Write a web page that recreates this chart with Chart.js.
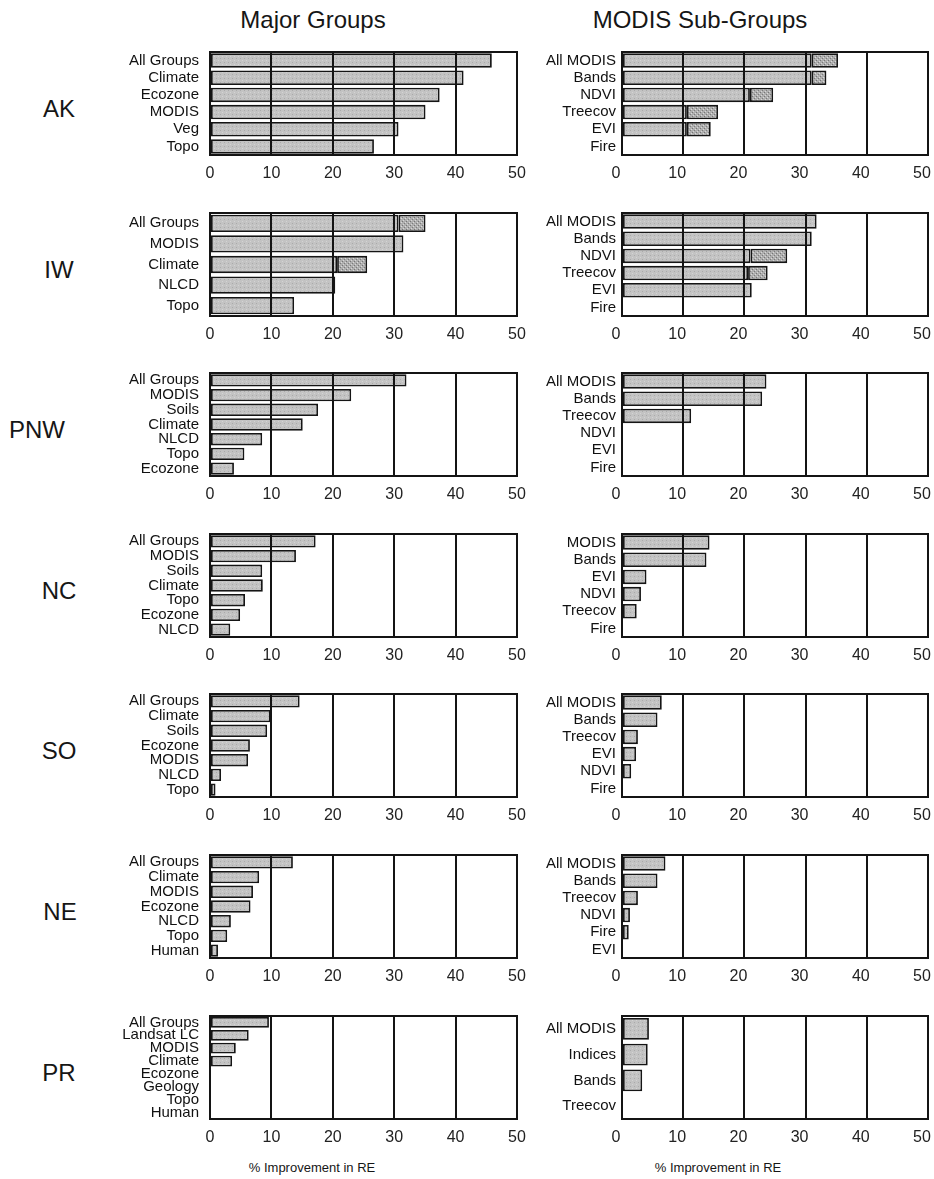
<!DOCTYPE html>
<html><head><meta charset="utf-8">
<script src="https://cdn.jsdelivr.net/npm/chart.js@4.4.0/dist/chart.umd.min.js"></script>
<style>
body{margin:0;background:#fff;width:934px;height:1179px;position:relative;overflow:hidden;font-family:"Liberation Sans",Arial,sans-serif;}
canvas{position:absolute;}
.txt{position:absolute;white-space:nowrap;color:#161616;transform:translate(-50%,-50%);}
</style></head><body>
<script>
// ---------- DATA ----------
const regions = ['AK','IW','PNW','NC','SO','NE','PR'];
const xTickValues = [0,10,20,30,40,50];
const colTitles = ['Major Groups','MODIS Sub-Groups'];
const axisTitle = '% Improvement in RE';

const akMajorLabels = ['All Groups','Climate','Ecozone','MODIS','Veg','Topo'];
const akMajorBase   = [45.9,41.3,37.4,35.1,30.7,26.7];
const akMajorExtra  = [0,0,0,0,0,0];
const akModisLabels = ['All MODIS','Bands','NDVI','Treecov','EVI','Fire'];
const akModisBase   = [31.0,31.0,20.9,10.6,10.6,0];
const akModisExtra  = [4.3,2.4,3.8,5.1,3.9,0];

const iwMajorLabels = ['All Groups','MODIS','Climate','NLCD','Topo'];
const iwMajorBase   = [30.7,31.5,20.7,20.4,13.7];
const iwMajorExtra  = [4.4,0,4.9,0,0];
const iwModisLabels = ['All MODIS','Bands','NDVI','Treecov','EVI','Fire'];
const iwModisBase   = [31.8,31.0,21.0,20.6,21.2,0];
const iwModisExtra  = [0,0,6.0,3.2,0,0];

const pnwMajorLabels = ['All Groups','MODIS','Soils','Climate','NLCD','Topo','Ecozone'];
const pnwMajorBase   = [32.0,23.0,17.6,15.1,8.5,5.6,3.9];
const pnwMajorExtra  = [0,0,0,0,0,0,0];
const pnwModisLabels = ['All MODIS','Bands','Treecov','NDVI','EVI','Fire'];
const pnwModisBase   = [23.6,22.9,11.3,0,0,0];
const pnwModisExtra  = [0,0,0,0,0,0];

const ncMajorLabels = ['All Groups','MODIS','Soils','Climate','Topo','Ecozone','NLCD'];
const ncMajorBase   = [17.2,14.0,8.5,8.6,5.7,4.9,3.3];
const ncMajorExtra  = [0,0,0,0,0,0,0];
const ncModisLabels = ['MODIS','Bands','EVI','NDVI','Treecov','Fire'];
const ncModisBase   = [14.3,13.8,4.0,3.1,2.4,0];
const ncModisExtra  = [0,0,0,0,0,0];

const soMajorLabels = ['All Groups','Climate','Soils','Ecozone','MODIS','NLCD','Topo'];
const soMajorBase   = [14.6,9.9,9.3,6.5,6.2,1.8,0.9];
const soMajorExtra  = [0,0,0,0,0,0,0];
const soModisLabels = ['All MODIS','Bands','Treecov','EVI','NDVI','Fire'];
const soModisBase   = [6.5,5.8,2.6,2.3,1.5,0];
const soModisExtra  = [0,0,0,0,0,0];

const neMajorLabels = ['All Groups','Climate','MODIS','Ecozone','NLCD','Topo','Human'];
const neMajorBase   = [13.5,8.0,7.0,6.6,3.4,2.8,1.3];
const neMajorExtra  = [0,0,0,0,0,0,0];
const neModisLabels = ['All MODIS','Bands','Treecov','NDVI','Fire','EVI'];
const neModisBase   = [7.1,5.8,2.6,1.3,1.1,0];
const neModisExtra  = [0,0,0,0,0,0];

const prMajorLabels = ['All Groups','Landsat LC','MODIS','Climate','Ecozone','Geology','Topo','Human'];
const prMajorBase   = [9.6,6.3,4.2,3.6,0,0,0,0];
const prMajorExtra  = [0,0,0,0,0,0,0,0];
const prModisLabels = ['All MODIS','Indices','Bands','Treecov'];
const prModisBase   = [4.4,4.2,3.3,0];
const prModisExtra  = [0,0,0,0];

const panels = [
  [[akMajorLabels,akMajorBase,akMajorExtra],[akModisLabels,akModisBase,akModisExtra]],
  [[iwMajorLabels,iwMajorBase,iwMajorExtra],[iwModisLabels,iwModisBase,iwModisExtra]],
  [[pnwMajorLabels,pnwMajorBase,pnwMajorExtra],[pnwModisLabels,pnwModisBase,pnwModisExtra]],
  [[ncMajorLabels,ncMajorBase,ncMajorExtra],[ncModisLabels,ncModisBase,ncModisExtra]],
  [[soMajorLabels,soMajorBase,soMajorExtra],[soModisLabels,soModisBase,soModisExtra]],
  [[neMajorLabels,neMajorBase,neMajorExtra],[neModisLabels,neModisBase,neModisExtra]],
  [[prMajorLabels,prMajorBase,prMajorExtra],[prModisLabels,prModisBase,prModisExtra]]
];

// ---------- LAYOUT / STYLE ----------
const FONT = '"Liberation Sans", Arial, Helvetica, sans-serif';
const ROW_TOP0 = 52, ROW_STEP = 160.6, FRAME_H = 103;
const COLS = [
  {frameL:210, frameR:517, yW:110, padR:14, labelPad:11, labelOffset:0},
  {frameL:622, frameR:928, yW:100, padR:6,  labelPad:6, labelOffset:-6}
];
const ROW_LABEL_X = [59, 59, 37, 59, 59, 60, 59];
const XAX_H = 32;

function pattern(bg, dots) {
  const c = document.createElement('canvas'); c.width = 4; c.height = 4;
  const g = c.getContext('2d');
  g.fillStyle = bg; g.fillRect(0,0,4,4);
  dots.forEach(([x,y,col]) => { g.fillStyle = col; g.fillRect(x,y,1,1); });
  return g.createPattern(c,'repeat');
}
const basePat = pattern('#c3c3c3', [[0,0,'#aaaaaa'],[2,2,'#d4d4d4']]);
const extPat  = pattern('#aeaeae', [[0,0,'#7c7c7c'],[2,2,'#767676'],[1,3,'#dadada'],[3,1,'#d6d6d6']]);

const framePlugin = {
  id:'frame',
  afterDraw(chart){
    const {ctx, chartArea:a} = chart;
    ctx.save(); ctx.strokeStyle = '#141414'; ctx.lineWidth = 2;
    ctx.strokeRect(a.left, a.top, a.right - a.left, a.bottom - a.top);
    ctx.restore();
  }
};

function addText(str, x, y, size) {
  const d = document.createElement('div');
  d.className = 'txt'; d.textContent = str;
  d.style.left = x + 'px'; d.style.top = y + 'px'; d.style.fontSize = size + 'px';
  document.body.appendChild(d);
}

addText(colTitles[0], 313, 20, 24);
addText(colTitles[1], 700, 20, 24);
addText(axisTitle, 312, 1167, 13);
addText(axisTitle, 718, 1167, 13);

const zeroPad = s => { s.paddingTop = 0; s.paddingBottom = 0; s.paddingLeft = 0; s.paddingRight = 0; };

panels.forEach((row, r) => {
  const top = Math.round(ROW_TOP0 + ROW_STEP * r);
  addText(regions[r], ROW_LABEL_X[r], top + FRAME_H/2 + 5, 24);
  row.forEach(([labels, base, extra], c) => {
    const col = COLS[c];
    const cv = document.createElement('canvas');
    const left = col.frameL - col.yW;
    const w = col.frameR + col.padR - left;
    const h = 2 + FRAME_H + XAX_H;
    cv.width = w; cv.height = h;
    cv.style.left = left + 'px'; cv.style.top = (top - 2) + 'px';
    cv.style.width = w + 'px'; cv.style.height = h + 'px';
    document.body.appendChild(cv);
    const ds = (data, bg) => ({
      data, backgroundColor: bg, borderColor:'#151515', borderWidth:1.8,
      borderSkipped:false, barPercentage:0.84, categoryPercentage:1
    });
    new Chart(cv, {
      type:'bar',
      data:{labels, datasets:[ds(base, basePat), ds(extra, extPat)]},
      options:{
        indexAxis:'y', responsive:false, animation:false, events:[],
        devicePixelRatio:1,
        layout:{padding:{top:2, right:col.padR, left:0, bottom:0}},
        plugins:{legend:{display:false}, tooltip:{enabled:false}},
        scales:{
          x:{type:'linear', min:0, max:50, stacked:true,
             afterBuildTicks: s => { s.ticks = xTickValues.map(v => ({value:v})); },
             grid:{color:'#141414', lineWidth:2, drawTicks:false, z:1},
             border:{display:false},
             ticks:{font:{size:16, family:FONT}, color:'#222', padding:9,
                    labelOffset:col.labelOffset, maxRotation:0, autoSkip:false},
             afterFit: s => { s.height = XAX_H; zeroPad(s); }},
          y:{stacked:true, grid:{display:false, drawTicks:false}, border:{display:false},
             ticks:{font:{size:15, family:FONT}, color:'#111', padding:col.labelPad, autoSkip:false},
             afterFit: s => { s.width = col.yW; zeroPad(s); }}
        }
      },
      plugins:[framePlugin]
    });
  });
});
</script>
</body></html>
